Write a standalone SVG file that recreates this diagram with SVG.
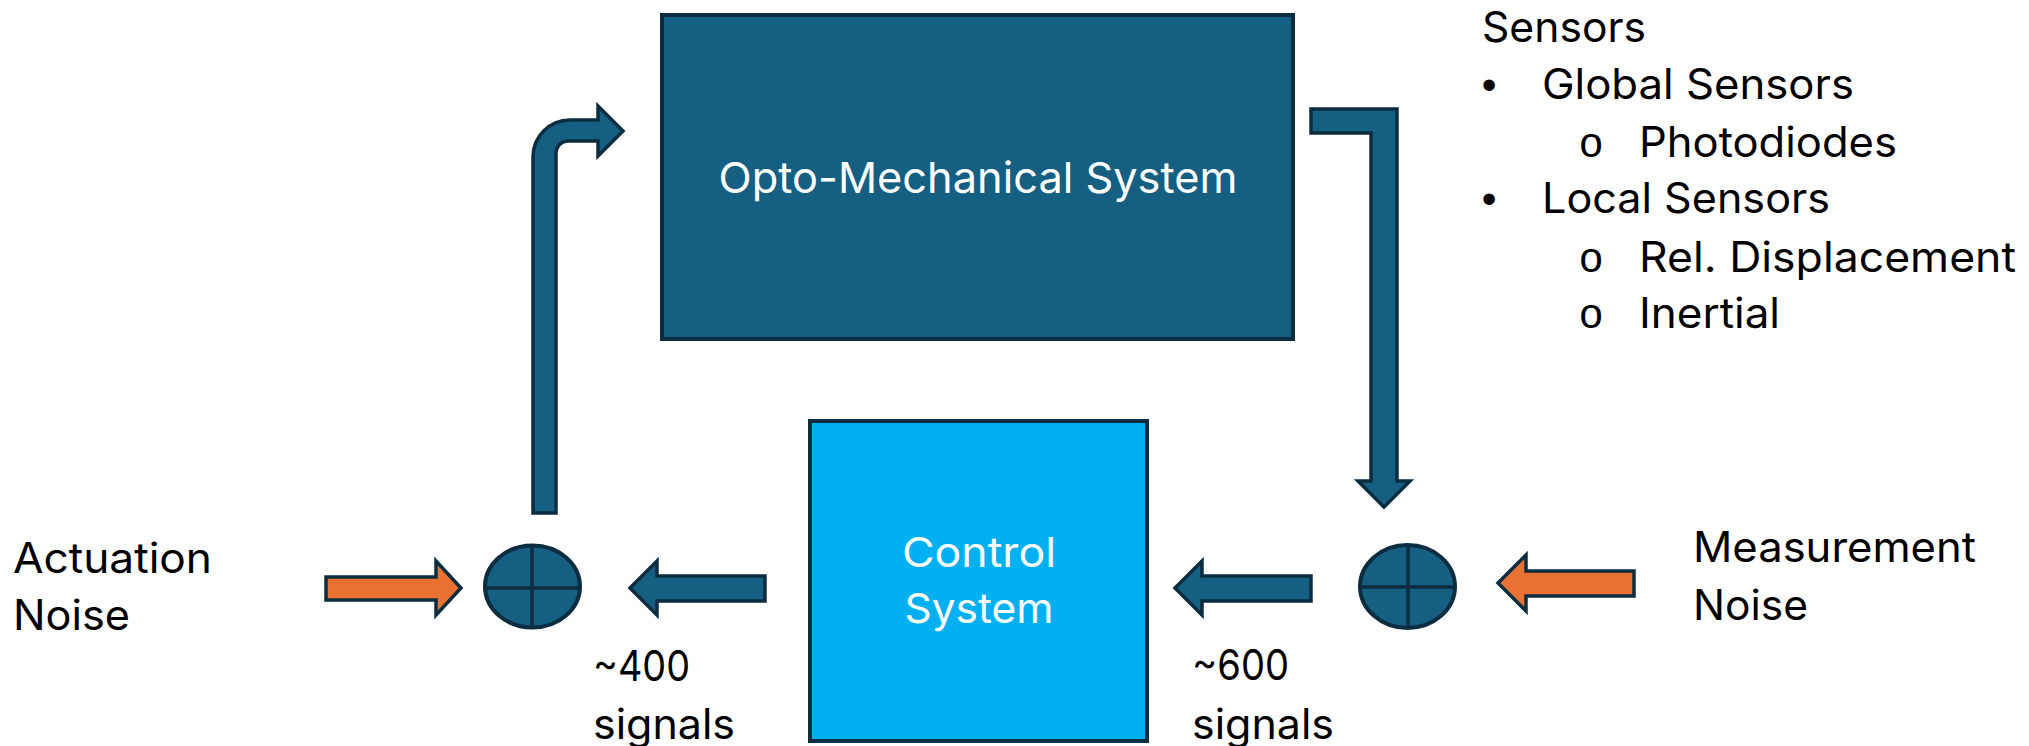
<svg xmlns="http://www.w3.org/2000/svg" width="2029" height="746" viewBox="0 0 2029 746">
  <style>
    .blk { fill: #156082; stroke: #0C2D40; stroke-width: 4; }
    .ctl { fill: #00B0F0; stroke: #0C2D40; stroke-width: 4; }
    .arr { fill: #156082; stroke: #0C2D40; stroke-width: 3.5; stroke-linejoin: miter; }
    .noise { fill: #E97132; stroke: #0C2D40; stroke-width: 3.5; stroke-linejoin: miter; }
    .sum { fill: #156082; stroke: #0C2D40; stroke-width: 4; }
    .cross { stroke: #0C2D40; stroke-width: 3.5; fill: none; }
    .t { font-family: Inter, "Liberation Sans", sans-serif; font-size: 42px; fill: #000000; }
    .w { font-family: Inter, "Liberation Sans", sans-serif; fill: #FFFFFF; }
    .dot { font-family: "Liberation Sans", Arial, sans-serif; font-size: 42px; fill: #000000; }
    .ring { font-family: "Liberation Mono", "Courier New", monospace; font-size: 42px; fill: #000000; }
  </style>

  <!-- plant block -->
  <g id="opto-mechanical-system">
    <rect class="blk" x="662" y="15" width="631" height="324"/>
    <text class="w" x="978" y="193" font-size="43" text-anchor="middle" textLength="519" lengthAdjust="spacingAndGlyphs">Opto-Mechanical System</text>
  </g>

  <!-- controller block -->
  <g id="control-system">
    <rect class="ctl" x="810" y="421" width="337" height="320"/>
    <text class="w" x="979" y="567" font-size="41" text-anchor="middle" textLength="154" lengthAdjust="spacingAndGlyphs">Control</text>
    <text class="w" x="979" y="623" font-size="41" text-anchor="middle" textLength="149" lengthAdjust="spacingAndGlyphs">System</text>
  </g>

  <!-- summing junctions -->
  <g id="sum-actuation">
    <ellipse class="sum" cx="532.5" cy="586.5" rx="47.5" ry="41"/>
    <line class="cross" x1="485" y1="588" x2="580" y2="588"/>
    <line class="cross" x1="532" y1="546" x2="532" y2="627"/>
  </g>
  <g id="sum-measurement">
    <ellipse class="sum" cx="1407.5" cy="586.5" rx="47.5" ry="41.5"/>
    <line class="cross" x1="1360" y1="587" x2="1455" y2="587"/>
    <line class="cross" x1="1408" y1="545" x2="1408" y2="628"/>
  </g>

  <!-- labels -->
  <g id="actuation-noise">
    <text class="t" x="13" y="573" textLength="199" lengthAdjust="spacingAndGlyphs">Actuation</text>
    <text class="t" x="13" y="630" textLength="117" lengthAdjust="spacingAndGlyphs">Noise</text>
  </g>
  <g id="measurement-noise">
    <text class="t" x="1693" y="562" textLength="283" lengthAdjust="spacingAndGlyphs">Measurement</text>
    <text class="t" x="1693" y="620" textLength="115" lengthAdjust="spacingAndGlyphs">Noise</text>
  </g>
  <g id="signals-400">
    <text class="t" x="593" y="681" textLength="97" lengthAdjust="spacingAndGlyphs">~400</text>
    <text class="t" x="593" y="739" textLength="142" lengthAdjust="spacingAndGlyphs">signals</text>
  </g>
  <g id="signals-600">
    <text class="t" x="1192" y="680" textLength="97" lengthAdjust="spacingAndGlyphs">~600</text>
    <text class="t" x="1192" y="739" textLength="142" lengthAdjust="spacingAndGlyphs">signals</text>
  </g>

  <g id="sensors-list">
    <text class="t" x="1482" y="42" textLength="164" lengthAdjust="spacingAndGlyphs">Sensors</text>
    <text class="dot" x="1489" y="99" text-anchor="middle">•</text>
    <text class="t" x="1542" y="99" textLength="312" lengthAdjust="spacingAndGlyphs">Global Sensors</text>
    <text class="ring" x="1591" y="157" text-anchor="middle">o</text>
    <text class="t" x="1639" y="157" textLength="258" lengthAdjust="spacingAndGlyphs">Photodiodes</text>
    <text class="dot" x="1489" y="213" text-anchor="middle">•</text>
    <text class="t" x="1542" y="213" textLength="288" lengthAdjust="spacingAndGlyphs">Local Sensors</text>
    <text class="ring" x="1591" y="272" text-anchor="middle">o</text>
    <text class="t" x="1639" y="272" textLength="377" lengthAdjust="spacingAndGlyphs">Rel. Displacement</text>
    <text class="ring" x="1591" y="328" text-anchor="middle">o</text>
    <text class="t" x="1639" y="328" textLength="141" lengthAdjust="spacingAndGlyphs">Inertial</text>
  </g>

  <!-- block arrows between elements -->
  <g id="connectors">
    <!-- actuation sum up into the plant -->
    <path class="arr" d="M533,513 L533,157 A37,37 0 0 1 570,120 L598,120 L598,106 L623,131 L598,156 L598,141 L568,141 A12,12 0 0 0 556,153 L556,513 Z"/>
    <!-- plant output down to measurement sum -->
    <path class="arr" d="M1311,109 L1397,109 L1397,481 L1410,481 L1384,507 L1358,481 L1371,481 L1371,133 L1311,133 Z"/>
    <!-- measurement sum into controller -->
    <path class="arr" d="M1311,576 L1202,576 L1202,561 L1175,588 L1202,615 L1202,601 L1311,601 Z"/>
    <!-- controller into actuation sum -->
    <path class="arr" d="M765,576 L657,576 L657,561 L630,588 L657,615 L657,601 L765,601 Z"/>
    <!-- noise inputs -->
    <path class="noise" d="M326,577 L436,577 L436,561 L461,588 L436,615 L436,600 L326,600 Z"/>
    <path class="noise" d="M1634,571 L1526,571 L1526,555 L1498,583 L1526,611 L1526,596 L1634,596 Z"/>
  </g>
</svg>
